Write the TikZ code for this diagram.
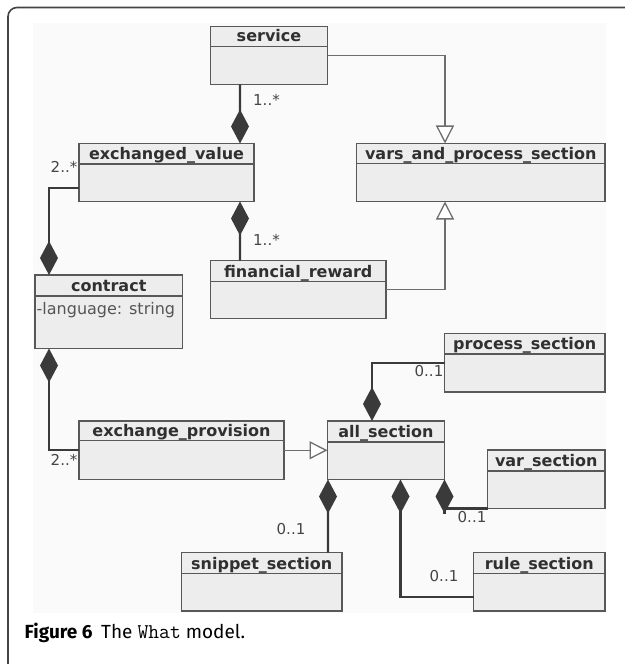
\documentclass[tikz,border=0pt]{standalone}
\usepackage{fontspec}
\setmainfont{DejaVu Sans}
\newfontfamily\capfont{Fira Sans}
\usetikzlibrary{arrows.meta,calc}

\definecolor{boxfill}{HTML}{EDEDED}
\definecolor{boxedge}{HTML}{585858}
\definecolor{titletext}{HTML}{303030}
\definecolor{attrtext}{HTML}{555555}
\definecolor{complink}{HTML}{3A3A3A}
\definecolor{genlink}{HTML}{6E6E6E}
\definecolor{canvasbg}{HTML}{FAFAFA}
\definecolor{framecol}{HTML}{444444}

\tikzset{
  classrect/.style={draw=boxedge, fill=boxfill, line width=1.4bp, inner sep=0pt, outer sep=0pt},
  boxline/.style={draw=boxedge, line width=1.4bp},
  classtitle/.style={text=titletext, font=\fontsize{16bp}{18bp}\selectfont\bfseries, inner sep=0pt, anchor=base},
  attrtxt/.style={text=attrtext, font=\fontsize{16bp}{18bp}\selectfont, inner sep=0pt, anchor=base west},
  multlabel/.style={text=titletext!90, font=\fontsize{15bp}{17bp}\selectfont, inner sep=0pt},
  comp/.style={draw=complink, line width=2.3bp, {Diamond[length=34bp, width=18bp, fill=complink]}-},
  compline/.style={draw=complink, line width=2.3bp},
  gen/.style={draw=genlink, line width=1.3bp, -{Triangle[length=18bp, width=18bp, fill=white, line width=1.3bp]}},
}

% class box: name, x1, y1, x2, y2, header line y, title
\newcommand\classbox[7]{%
  \node[classrect, minimum width={(#4-#2)*1bp}, minimum height={(#5-#3)*1bp}]
    (#1) at ({(#2+#4)/2},{(#3+#5)/2}) {};
  \draw[boxline] (#2,#6) -- (#4,#6);
  \node[classtitle] (#1-title) at ({(#2+#4)/2},{#6-4.5}) {#7};
}

\begin{document}
\begin{tikzpicture}[x=1bp, y=-1bp]
\useasboundingbox (0,0) rectangle (625,664);
\fill[white] (0,0) rectangle (625,664);

% figure frame and drawing canvas
\fill[canvasbg] (33,23) rectangle (606,613);
\draw[framecol, line width=1.6bp, rounded corners=9bp] (640,7.5) -- (8,7.5) -- (8,680);

% classes
\classbox{service}{210.5}{26.5}{327.5}{84.5}{46.5}{service}
\classbox{exval}{79}{143.5}{254}{201.5}{164}{exchanged\_value}
\classbox{vars}{356.5}{143.5}{605}{201.5}{163.5}{vars\_and\_process\_section}
\classbox{finrew}{210.5}{260.5}{386}{318.5}{281.5}{financial\_reward}
\classbox{contract}{35}{275}{182.5}{348.5}{296}{contract}
\classbox{procsec}{444.5}{333.5}{605}{392}{354}{process\_section}
\classbox{exprov}{79}{421}{284}{479.5}{440.5}{exchange\_provision}
\classbox{allsec}{327.5}{421}{444.5}{479.5}{442}{all\_section}
\classbox{varsec}{487.5}{450}{605}{508.5}{471}{var\_section}
\classbox{snipsec}{181.5}{552.5}{342}{611}{573.5}{snippet\_section}
\classbox{rulesec}{473.5}{552.5}{605}{611}{573.5}{rule\_section}

\node[attrtxt] (langattr) at (36.5,314.5) {-language: string};

% generalizations
\draw[gen] (service.east) -| ([xshift=-35.75bp]vars.north);
\draw[gen] (finrew.east) -| ([xshift=-35.75bp]vars.south);
\draw[gen] (exprov.east) -- (allsec.west);

% compositions
\draw[comp] ([xshift=73.5bp]exval.north) -- ([xshift=-29bp]service.south);
\draw[comp] ([xshift=73.5bp]exval.south) -- ([xshift=-58.25bp]finrew.north);
\draw[comp] ([xshift=-59.75bp]contract.north) |- ([yshift=-15.5bp]exval.west);
\draw[comp] ([xshift=-59.75bp]contract.south) |- (exprov.west);
\draw[comp] ([xshift=-14bp]allsec.north) |- (procsec.west);
\draw[comp] ([xshift=-58bp]allsec.south) -- ([xshift=66.25bp]snipsec.north);
\draw[comp] ([xshift=14.5bp]allsec.south) |- ([yshift=-15.25bp]rulesec.west);
\draw[comp] (allsec.south east) -- ++(0,34);
\draw[compline] (varsec.south west) -- (allsec.south east |- varsec.south west);

% multiplicities
\node[multlabel, anchor=mid west] (m1) at (253,103) {1..*};
\node[multlabel, anchor=mid west] (m2) at (253,243) {1..*};
\node[multlabel, anchor=mid east] (m3) at (77.5,170) {2..*};
\node[multlabel, anchor=mid east] (m4) at (77.5,463) {2..*};
\node[multlabel, anchor=mid east] (m5) at (443.5,374) {0..1};
\node[multlabel, anchor=mid west] (m6) at (276.5,532) {0..1};
\node[multlabel, anchor=mid west] (m7) at (457.5,520) {0..1};
\node[multlabel, anchor=mid west] (m8) at (429.5,579) {0..1};

% caption
\node[anchor=base west, inner sep=0pt, font=\capfont\fontsize{19bp}{22bp}\selectfont] (caption) at (24.5,638)
  {\textbf{Figure 6}\hspace{0.45em}The {\ttfamily\fontsize{21bp}{22bp}\selectfont What} model.};
\end{tikzpicture}
\end{document}
